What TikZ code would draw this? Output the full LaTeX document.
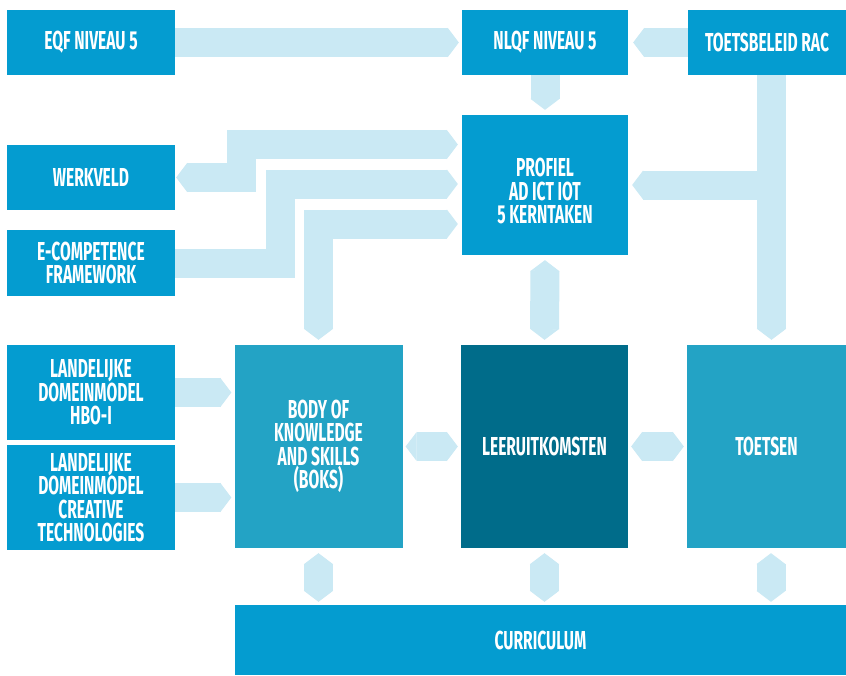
\documentclass[tikz,border=0pt]{standalone}
\usepackage{fontspec}
\newfontfamily\lbl{Fira Sans}[FakeStretch=0.6]
\usetikzlibrary{arrows.meta}
\definecolor{mainc}{RGB}{4,156,208}
\definecolor{midc}{RGB}{35,163,197}
\definecolor{darkc}{RGB}{0,108,138}
\definecolor{bandc}{RGB}{202,233,244}
\begin{document}
\begin{tikzpicture}[x=1pt,y=-1pt,
  box/.style={rectangle, fill=mainc, inner sep=0pt, text=white, align=center,
    font=\lbl\bfseries\fontsize{26}{23.5}\selectfont},
  band/.style={draw=bandc, line width=29pt, line join=miter, line cap=butt},
  tipe/.style={-{Triangle[length=11pt,width=29pt,line width=0.8pt]}},
  tipb/.style={{Triangle[length=11pt,width=29pt,line width=0.8pt]}-{Triangle[length=11pt,width=29pt,line width=0.8pt]}}]
\useasboundingbox (0,0) rectangle (846,675);
\fill[white] (0,0) rectangle (846,675);
% boxes
\node[box, minimum width=168pt, minimum height=65pt] (eqf) at (91,42.5) {EQF NIVEAU 5};
\node[box, minimum width=166pt, minimum height=65pt] (nlqf) at (545,42.5) {NLQF NIVEAU 5};
\node[box, minimum width=158pt, minimum height=65pt] (tb) at (767,42.5) {TOETSBELEID RAC};
\node[box, minimum width=166pt, minimum height=140pt] (profiel) at (545,185) {};
\node[align=center, text=white, inner sep=0pt, font=\lbl\bfseries\fontsize{26}{23.5}\selectfont] (proftxt) at (545,191) {PROFIEL\\AD ICT IOT\\5 KERNTAKEN};
\node[box, minimum width=168pt, minimum height=65pt] (werkveld) at (91,177.5) {WERKVELD};
\node[box, minimum width=168pt, minimum height=66pt] (ecomp) at (91,263) {E-COMPETENCE\\FRAMEWORK};
\node[box, minimum width=168pt, minimum height=95pt] (hbo) at (91,392.5) {LANDELIJKE\\DOMEINMODEL\\HBO-I};
\node[box, minimum width=168pt, minimum height=105pt] (ct) at (91,497.5) {LANDELIJKE\\DOMEINMODEL\\CREATIVE\\TECHNOLOGIES};
\node[box, fill=midc, minimum width=168pt, minimum height=203pt] (boks) at (318.5,446.5) {BODY OF\\KNOWLEDGE\\AND SKILLS\\(BOKS)};
\node[box, fill=darkc, minimum width=167pt, minimum height=203pt] (leer) at (544.5,446.5) {LEERUITKOMSTEN};
\node[box, fill=midc, minimum width=159pt, minimum height=203pt] (toetsen) at (766.5,446.5) {TOETSEN};
\node[box, minimum width=611pt, minimum height=70pt] (curr) at (540.5,640) {CURRICULUM};
% connectors
\draw[band, tipe, shorten >=3pt] (eqf.east) -- (nlqf.west);
\draw[band, tipe, shorten >=5pt] (tb.west) -- (nlqf.east);
\draw[band, tipe, shorten >=5pt] (nlqf.south) -- (profiel.north);
\coordinate (tbx) at ([xshift=4.5pt]tb.south);
\coordinate (tsx) at ([xshift=5pt]toetsen.north);
\draw[band, tipe, shorten >=5pt] (tbx) -- (tsx);
\draw[band, tipe, shorten >=4pt] (tbx |- profiel.east) -- (profiel.east);
\coordinate (wkc) at (241,144.5);
\draw[band, tipb, shorten >=4pt, shorten <=1pt] (werkveld.east) -| (wkc) -- (profiel.west |- wkc);
\coordinate (ecc) at (280,184);
\draw[band, tipe, shorten >=4pt] (ecomp.east) -| (ecc) -- (profiel.west |- ecc);
\coordinate (bkc) at (318.5,224);
\draw[band, tipb, shorten >=5pt, shorten <=4pt] (profiel.west |- bkc) -- (bkc) -- (boks.north);
\draw[band, tipb, shorten >=5pt, shorten <=5pt] (profiel.south) -- (leer.north);
\draw[band, tipe, shorten >=3pt] (hbo.east) -- (boks.west |- hbo.east);
\draw[band, tipe, shorten >=3pt] (ct.east) -- (boks.west |- ct.east);
\draw[band, tipb, shorten >=3pt, shorten <=3pt] (boks.east) -- (leer.west);
\draw[band, tipb, shorten >=3pt, shorten <=3pt] (leer.east) -- (toetsen.west);
\draw[band, tipb, shorten >=3pt, shorten <=5pt] (boks.south) -- (boks.south |- curr.north);
\draw[band, tipb, shorten >=3pt, shorten <=5pt] (leer.south) -- (leer.south |- curr.north);
\draw[band, tipb, shorten >=3pt, shorten <=5pt] ([xshift=4.5pt]toetsen.south) -- ([xshift=4.5pt]toetsen.south |- curr.north);
\end{tikzpicture}
\end{document}
